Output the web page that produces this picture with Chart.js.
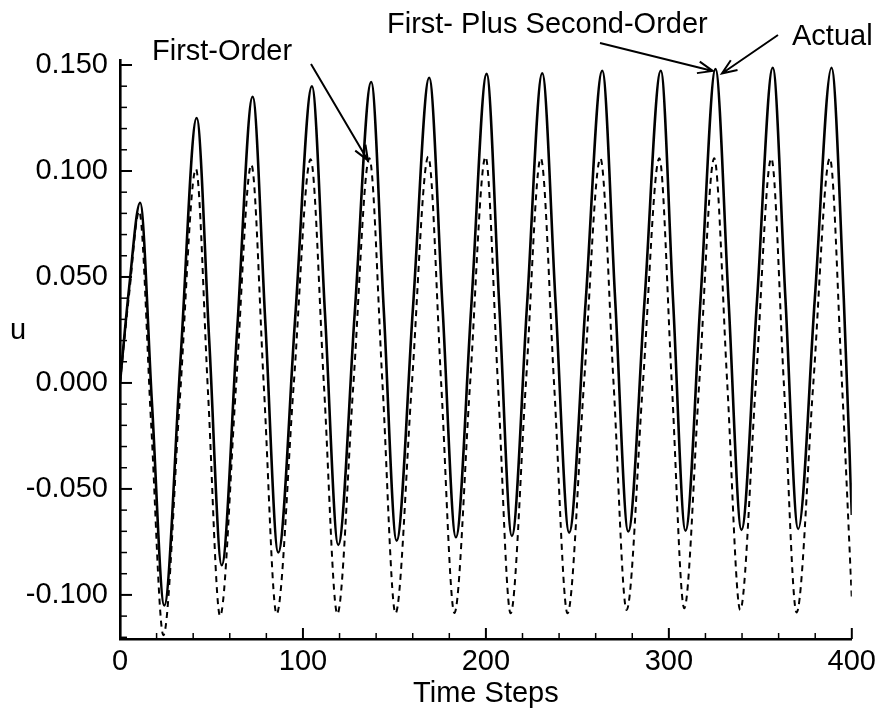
<!DOCTYPE html>
<html>
<head>
<meta charset="utf-8">
<script src="https://cdn.jsdelivr.net/npm/chart.js@4.4.1/dist/chart.umd.min.js"></script>
<style>
  html, body { margin: 0; padding: 0; background: #fff; }
  #wrap { width: 882px; height: 715px; position: relative; }
</style>
</head>
<body>
<div id="wrap"><canvas id="uChart"></canvas></div>
<script>
// values (time step, u)
const actualSteps = [0, 5, 11, 17.5, 24.2, 33, 41.9, 48.8, 55.6, 64, 72.5, 79.5, 86.5, 95.7, 104.9, 112.1, 119.3, 128.3, 137.3, 144.2, 151.2, 160.1, 169, 176.3, 183.6, 192, 200.4, 207.3, 214.2, 222.5, 230.8, 238.1, 245.5, 254.5, 263.6, 270.7, 277.8, 286.7, 295.6, 302.3, 309.1, 317.3, 325.5, 332.6, 339.7, 348.2, 356.8, 363.7, 370.7, 379.8, 388.9, 395.6, 400];
const actualU = [0, 0.045, 0.085, -0.010, -0.105, 0.010, 0.125, 0.0195, -0.086, 0.0245, 0.135, 0.0275, -0.080, 0.030, 0.140, 0.0318, -0.0764, 0.033, 0.142, 0.034, -0.0744, 0.035, 0.144, 0.0357, -0.0728, 0.036, 0.1458, 0.0368, -0.0722, 0.037, 0.1461, 0.0377, -0.0706, 0.038, 0.1473, 0.0386, -0.0701, 0.0386, 0.1473, 0.039, -0.0697, 0.0392, 0.1481, 0.0394, -0.0693, 0.039, 0.1487, 0.040, -0.0689, 0.040, 0.1487, 0.040, -0.0623];

const firstSteps = [0, 5, 10.5, 17, 23.7, 32.6, 41.5, 48.1, 54.7, 63.3, 71.8, 78.7, 85.6, 94.9, 104.2, 111.5, 118.8, 127.5, 136.3, 143.5, 150.6, 159.5, 168.5, 175.6, 182.8, 191.3, 199.8, 206.6, 213.5, 221.8, 230, 237.3, 244.6, 253.6, 262.6, 269.8, 276.9, 285.8, 294.8, 301.6, 308.4, 316.6, 324.8, 331.9, 339, 347.5, 356, 362.9, 369.8, 378.9, 388, 394.5, 400];
const firstU = [0, 0.042, 0.081, -0.019, -0.119, -0.009, 0.101, -0.0045, -0.110, -0.003, 0.103, -0.003, -0.109, -0.0015, 0.1055, -0.0015, -0.109, -0.0015, 0.106, -0.001, -0.1087, -0.001, 0.1067, -0.001, -0.1085, -0.001, 0.1067, -0.001, -0.1087, -0.001, 0.106, -0.001, -0.1087, -0.0005, 0.106, -0.0005, -0.1071, -0.0005, 0.106, 0, -0.1063, 0, 0.106, 0, -0.1071, -0.001, 0.106, -0.001, -0.1083, -0.001, 0.106, 0.002, -0.1016];

const xTicks = [0, 100, 200, 300, 400];
const yTicks = [-0.100, -0.050, 0.000, 0.050, 0.100, 0.150];

const FONT = '"Liberation Sans", Arial, Helvetica, sans-serif';

const pairs = (xs, ys) => xs.map((x, i) => ({ x: x, y: ys[i] }));

// inward tick marks, arrows and the callout labels
const decorations = {
  id: 'decorations',
  afterDraw(chart) {
    const ctx = chart.ctx;
    const xs = chart.scales.x, ys = chart.scales.y;
    const area = chart.chartArea;
    ctx.save();
    ctx.strokeStyle = '#000';
    ctx.fillStyle = '#000';
    ctx.lineCap = 'butt';

    // x ticks
    for (let v = 0; v <= 400; v += 20) {
      const px = xs.getPixelForValue(v);
      const major = xTicks.includes(v);
      ctx.lineWidth = major ? 2 : 1.5;
      ctx.beginPath();
      ctx.moveTo(px, area.bottom);
      ctx.lineTo(px, area.bottom - (major ? 11 : 6));
      ctx.stroke();
    }
    // y ticks
    for (let k = -12; k <= 15; k++) {
      const v = k / 100;
      const py = ys.getPixelForValue(v);
      const major = k % 5 === 0;
      ctx.lineWidth = major ? 2 : 1.5;
      ctx.beginPath();
      ctx.moveTo(area.left, py);
      ctx.lineTo(area.left + (major ? 12 : 7), py);
      ctx.stroke();
    }

    ctx.font = '29px ' + FONT;
    ctx.textBaseline = 'alphabetic';
    ctx.textAlign = 'left';
    ctx.fillText('First-Order', 152, 60);
    ctx.fillText('First- Plus Second-Order', 387, 33);
    ctx.fillText('Actual', 792, 45);

    ctx.textBaseline = 'middle';
    ctx.textAlign = 'center';
    ctx.fillText('u', 18, 331);

    const arrow = (x0, y0, x1, y1) => {
      ctx.lineWidth = 2;
      ctx.beginPath();
      ctx.moveTo(x0, y0);
      ctx.lineTo(x1, y1);
      const a = Math.atan2(y1 - y0, x1 - x0);
      const len = 16, spread = 0.38;
      ctx.moveTo(x1 - len * Math.cos(a - spread), y1 - len * Math.sin(a - spread));
      ctx.lineTo(x1, y1);
      ctx.lineTo(x1 - len * Math.cos(a + spread), y1 - len * Math.sin(a + spread));
      ctx.stroke();
    };
    arrow(311, 64, xs.getPixelForValue(135.5), ys.getPixelForValue(0.105));
    arrow(600, 43, xs.getPixelForValue(324), ys.getPixelForValue(0.1472));
    arrow(778, 35, xs.getPixelForValue(329), ys.getPixelForValue(0.146));
    ctx.restore();
  }
};

new Chart(document.getElementById('uChart'), {
  type: 'line',
  data: {
    datasets: [
      {
        label: 'Actual',
        data: pairs(actualSteps, actualU),
        borderColor: '#000',
        borderWidth: 2.6,
        pointRadius: 0,
        cubicInterpolationMode: 'monotone',
        fill: false
      },
      {
        label: 'First-Order',
        data: pairs(firstSteps, firstU),
        borderColor: '#000',
        borderWidth: 2,
        borderDash: [6, 5],
        pointRadius: 0,
        cubicInterpolationMode: 'monotone',
        fill: false
      }
    ]
  },
  options: {
    responsive: true,
    maintainAspectRatio: false,
    animation: false,
    events: [],
    layout: { padding: { top: 60, right: 30, left: 0, bottom: 0 } },
    plugins: { legend: { display: false }, tooltip: { enabled: false } },
    scales: {
      x: {
        type: 'linear',
        min: 0,
        max: 400,
        afterFit: s => { s.height = 76; },
        afterBuildTicks: s => { s.ticks = xTicks.map(v => ({ value: v })); },
        ticks: { color: '#000', font: { family: FONT, size: 29 }, padding: 6, maxRotation: 0 },
        grid: { display: true, drawOnChartArea: false, drawTicks: false },
        border: { display: true, color: '#000', width: 2.6 },
        title: { display: true, text: 'Time Steps', color: '#000', font: { family: FONT, size: 29 }, padding: { top: 0, bottom: 4 } }
      },
      y: {
        min: -0.1208,
        max: 0.15236,
        afterFit: s => { s.width = 120; },
        afterBuildTicks: s => { s.ticks = yTicks.map(v => ({ value: v })); },
        ticks: { color: '#000', font: { family: FONT, size: 29 }, padding: 12, callback: v => v.toFixed(3) },
        grid: { display: true, drawOnChartArea: false, drawTicks: false },
        border: { display: true, color: '#000', width: 2.6 }
      }
    }
  },
  plugins: [decorations]
});
</script>
</body>
</html>
